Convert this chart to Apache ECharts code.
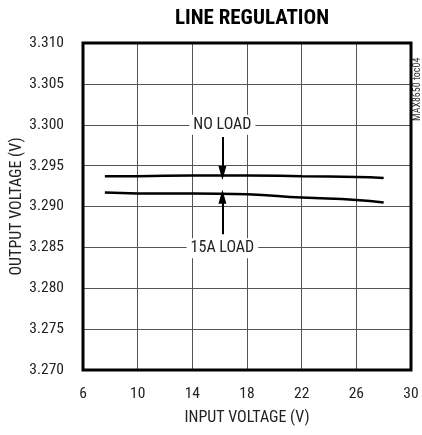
<!DOCTYPE html>
<html><head><meta charset="utf-8">
<script src="https://cdn.jsdelivr.net/npm/echarts@6/dist/echarts.min.js"></script>
<style>html,body{margin:0;padding:0;background:#fff}#c{width:422px;height:435px}</style>
</head><body><div id="c"></div>
<script>
const xTicks = [6, 10, 14, 18, 22, 26, 30];
const yTicks = [3.270, 3.275, 3.280, 3.285, 3.290, 3.295, 3.300, 3.305, 3.310];
const vin = [7.6, 10, 14, 18, 22, 26, 28];
const noLoad = [3.2937, 3.2937, 3.2938, 3.2938, 3.2937, 3.2936, 3.2935];
const load15A = [3.2917, 3.2916, 3.2916, 3.2915, 3.2911, 3.2908, 3.2905];
const noLoadLabel = {name: 'NO LOAD', x: 16.2, y: 3.300, arrowFrom: 3.2985, arrowTo: 3.2941};
const load15Label = {name: '15A LOAD', x: 16.2, y: 3.2849, arrowFrom: 3.2866, arrowTo: 3.2912};

const FONT = "'Roboto Condensed','DejaVu Sans Condensed',sans-serif";
const chart = echarts.init(document.getElementById('c'));
const pairs = (xs, ys) => xs.map((x, i) => [x, ys[i]]);
function annot(a) {
  return {
    type: 'line', data: [], silent: true,
    markLine: {
      silent: true, symbol: ['none', 'triangle'], symbolSize: [8, 14],
      lineStyle: {color: '#000', width: 2, type: 'solid'},
      label: {show: false},
      data: [[{coord: [a.x, a.arrowFrom]}, {coord: [a.x, a.arrowTo]}]]
    },
    markPoint: {
      silent: true, symbol: 'rect', symbolSize: 0.1,
      itemStyle: {color: 'transparent'},
      label: {show: true, position: 'inside', formatter: a.name, color: '#222',
        fontFamily: FONT, fontSize: 16, backgroundColor: '#fff', padding: [2, 4]},
      data: [{coord: [a.x, a.y]}]
    }
  };
}
chart.setOption({
  animation: false,
  title: {text: 'LINE REGULATION', left: 247, textAlign: 'center', top: 3,
    textStyle: {fontFamily: FONT, fontWeight: 'bold', fontSize: 21, color: '#000'}},
  grid: {left: 83, right: 11, top: 43, bottom: 65, show: true, borderColor: '#000', borderWidth: 3, z: 5,
    containLabel: false, outerBoundsMode: 'none'},
  xAxis: {type: 'value', min: 6, max: 30, interval: 4,
    name: 'INPUT VOLTAGE (V)', nameLocation: 'middle', nameGap: 40, nameMoveOverlap: false,
    nameTextStyle: {fontFamily: FONT, fontSize: 16, color: '#222'},
    axisLine: {show: false}, axisTick: {show: false},
    axisLabel: {fontFamily: FONT, fontSize: 15.5, color: '#222', margin: 16,
      formatter: v => xTicks.includes(v) ? String(v) : ''},
    splitLine: {lineStyle: {color: '#555', width: 1}}},
  yAxis: {type: 'value', min: 3.270, max: 3.310, interval: 0.005,
    name: 'OUTPUT VOLTAGE (V)', nameLocation: 'middle', nameGap: 58, nameRotate: 90, nameMoveOverlap: false,
    nameTextStyle: {fontFamily: FONT, fontSize: 16, color: '#222'},
    axisLine: {show: false}, axisTick: {show: false},
    axisLabel: {fontFamily: FONT, fontSize: 15.5, color: '#222', margin: 19,
      formatter: v => v.toFixed(3)},
    splitLine: {lineStyle: {color: '#555', width: 1}}},
  graphic: [{type: 'text', x: 412, y: 121, rotation: Math.PI / 2,
    style: {text: 'MAX8650 toc04', fontFamily: FONT, fontSize: 10, fill: '#333',
      textAlign: 'left', textVerticalAlign: 'top'}}],
  series: [
    {type: 'line', name: 'NO LOAD', data: pairs(vin, noLoad), smooth: true, showSymbol: false,
      lineStyle: {color: '#000', width: 2.5}},
    {type: 'line', name: '15A LOAD', data: pairs(vin, load15A), smooth: true, showSymbol: false,
      lineStyle: {color: '#000', width: 2.5}},
    annot(noLoadLabel), annot(load15Label)
  ]
});
</script></body></html>
